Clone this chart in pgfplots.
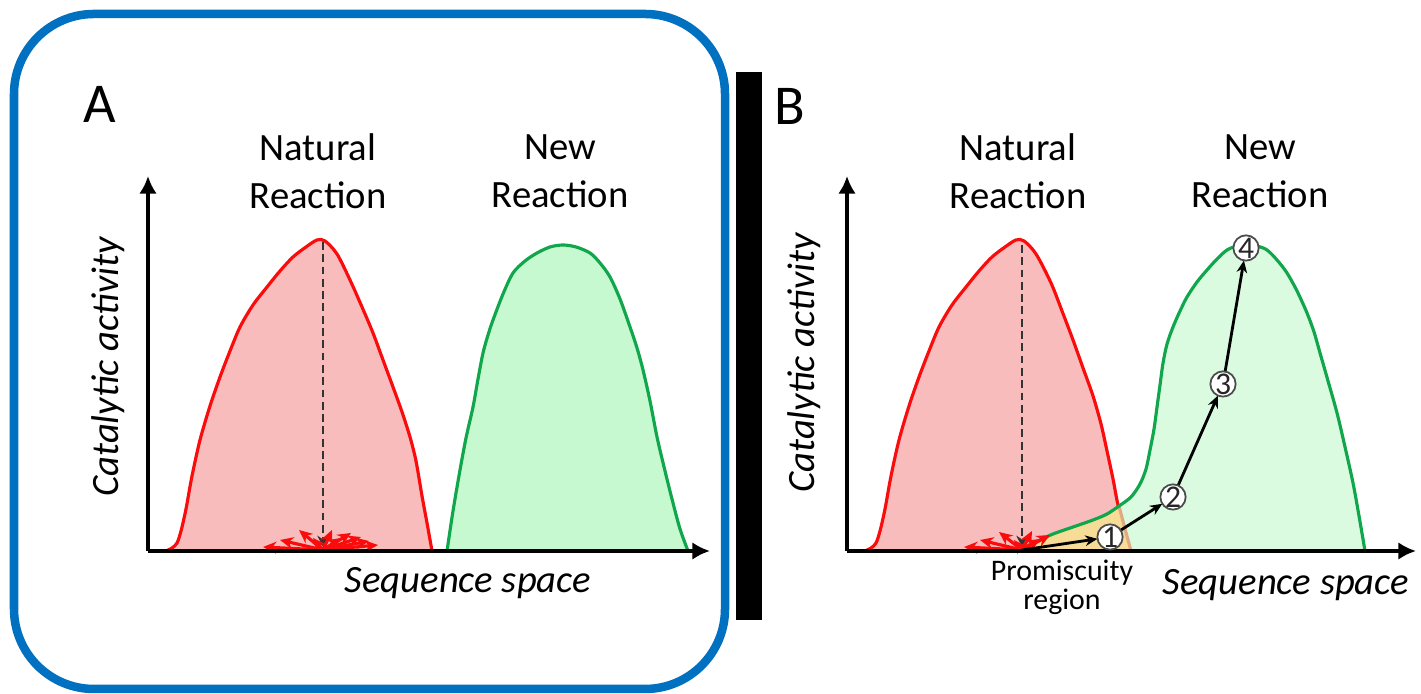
\documentclass[border=0pt]{standalone}
\usepackage{fontspec}
\setmainfont{Carlito}
\usepackage{pgfplots}
\pgfplotsset{compat=1.18}
\usetikzlibrary{arrows.meta}

\definecolor{redline}{RGB}{250,12,12}
\definecolor{redfill}{RGB}{249,188,188}
\definecolor{greenline}{RGB}{16,166,76}
\definecolor{greenfillA}{RGB}{199,249,209}
\definecolor{greenfillB}{RGB}{218,251,224}
\definecolor{promfill}{RGB}{246,220,150}
\definecolor{promline}{RGB}{225,170,130}
\definecolor{frameblue}{RGB}{0,112,192}

\pgfplotsset{
  landscape/.style={
    scale only axis, width=5.62cm, height=3.75cm,
    xmin=0, xmax=562, ymin=0, ymax=375,
    axis lines=left,
    axis line style={line width=1.4pt, -{Latex[length=5pt,width=5pt]}},
    xtick=\empty, ytick=\empty,
    clip=false, axis on top,
    label style={font=\fontsize{11}{13}\selectfont\itshape},
  },
  burst/.style={redline, line width=0.9pt, -{Stealth[length=3.8pt,width=3.4pt]}},
  peakline/.style={black!80, line width=0.75pt, dash pattern=on 2.2pt off 1.3pt,
    -{Stealth[length=3.2pt,width=3.2pt]}},
  step/.style={black, line width=0.8pt, -{Stealth[length=3.5pt,width=3pt]},
    shorten >=3.6pt},
}
\newcommand{\titlefont}{\fontsize{11}{13.7}\selectfont}

\begin{document}
\begin{tikzpicture}[x=1cm,y=1cm]
\useasboundingbox (0,0) rectangle (14.21,6.94);
\draw[frameblue, line width=0.085cm, rounded corners=0.8cm] (0.14,0.05) rectangle (7.25,6.80);
\fill[black] (7.36,0.74) rectangle (7.62,6.22);
\node[font=\fontsize{16}{19}\selectfont] at (1.00,5.90) {A};
\node[font=\fontsize{16}{19}\selectfont] at (7.90,5.88) {B};

% panel A
\begin{axis}[landscape, at={(1.48cm,1.43cm)}, anchor=south west,
  xlabel={Sequence space}, ylabel={Catalytic activity},
  xlabel style={at={(axis cs:320,-32)}, anchor=center},
  ylabel style={at={(axis cs:-40,184)}, anchor=center}]
\addplot[smooth, draw=redline, line width=0.9pt, fill=redfill] coordinates {
  (18,0) (24,3) (29,8) (33,20) (38,42) (44,75) (52,111) (62,145) (72,174)
  (82,200) (92,224) (105,246) (119,264) (132,280) (145,294) (158,304)
  (169,311) (177,310) (189,297) (202,271) (214,244) (225,218) (235,191)
  (245,164) (254,139) (262,114) (268,90) (274,55) (279,28) (284,0)};
\addplot[smooth, draw=greenline, line width=0.9pt, fill=greenfillA] coordinates {
  (299,0) (305,40) (312,81) (318,113) (325,144) (330,172) (335,198) (340,216)
  (345,231) (355,257) (365,278) (377,290) (389,298) (402,304) (415,306)
  (428,304) (442,298) (452,288) (462,274) (472,252) (482,224) (489,203)
  (495,181) (502,150) (509,114) (517,80) (525,48) (532,22) (540,0)};
\addplot[peakline] coordinates {(175,309) (175,4)};
\addplot[burst] coordinates {(175,1) (115,4)};
\addplot[burst] coordinates {(175,1) (132,11)};
\addplot[burst] coordinates {(175,1) (151,21)};
\addplot[burst] coordinates {(175,1) (165,13)};
\addplot[burst] coordinates {(175,1) (184,21)};
\addplot[burst] coordinates {(175,1) (193,13)};
\addplot[burst] coordinates {(175,1) (203,18)};
\addplot[burst] coordinates {(175,1) (213,14)};
\addplot[burst] coordinates {(175,1) (221,10)};
\addplot[burst] coordinates {(175,1) (230,6)};
\node[align=center, font=\titlefont] at (axis cs:170,380) {Natural\\Reaction};
\node[align=center, font=\titlefont] at (axis cs:412,380) {New\\Reaction};
\end{axis}

% panel B
\begin{axis}[landscape, at={(8.47cm,1.43cm)}, anchor=south west,
  width=5.69cm, xmax=569,
  xlabel={Sequence space}, ylabel={Catalytic activity},
  xlabel style={at={(axis cs:439,-34)}, anchor=center},
  ylabel style={at={(axis cs:-43,188)}, anchor=center}]
\addplot[smooth, draw=redline, line width=0.9pt, fill=redfill] coordinates {
  (18,0) (24,3) (29,8) (33,20) (38,42) (44,75) (52,111) (62,145) (72,174)
  (82,200) (92,224) (105,246) (119,264) (132,280) (145,294) (158,304)
  (169,311) (177,310) (189,297) (204,268) (215,240) (226,211) (236,183)
  (246,155) (254,127) (260,100) (266,72) (271,46) (278,22) (284,0)};
\addplot[smooth, draw=none, fill=greenfillB] coordinates {
  (175,1) (180,5) (193,11) (206,17) (226,24) (246,31) (260,37) (272,45)
  (284,54) (293,67) (299,82) (303,101) (307,122) (310,144) (313,166)
  (316,188) (320,207) (326,224) (333,240) (340,254) (350,269) (360,281)
  (370,292) (380,301) (390,305) (400,306) (410,305) (420,301) (430,291)
  (440,278) (450,260) (460,238) (467,219) (473,198) (481,170) (490,138)
  (498,104) (506,68) (512,35) (518,0)};
\addplot[draw=none, fill=promfill] coordinates {
  (175,0) (175,1) (180,5) (193,11) (206,17) (226,24) (246,31) (260,37)
  (272,45) (278,22) (284,0)} \closedcycle;
\addplot[promline, line width=0.9pt] coordinates {(272,45) (278,22) (284,0)};
\addplot[smooth, draw=greenline, line width=0.9pt] coordinates {
  (175,1) (180,5) (193,11) (206,17) (226,24) (246,31) (260,37) (272,45)
  (284,54) (293,67) (299,82) (303,101) (307,122) (310,144) (313,166)
  (316,188) (320,207) (326,224) (333,240) (340,254) (350,269) (360,281)
  (370,292) (380,301) (390,305) (400,306) (410,305) (420,301) (430,291)
  (440,278) (450,260) (460,238) (467,219) (473,198) (481,170) (490,138)
  (498,104) (506,68) (512,35) (518,0)};
\addplot[peakline] coordinates {(175,306) (175,4)};
\addplot[burst] coordinates {(175,1) (117,4)};
\addplot[burst] coordinates {(175,1) (133,11)};
\addplot[burst] coordinates {(175,1) (152,19)};
\addplot[burst] coordinates {(175,1) (167,11)};
\addplot[burst] coordinates {(175,1) (185,20)};
\addplot[burst] coordinates {(175,1) (193,12)};
\addplot[burst] coordinates {(175,1) (203,16)};
\addplot[step] coordinates {(175,1) (263,14)};
\addplot[step, shorten <=3.6pt] coordinates {(263,14) (326,54)};
\addplot[step, shorten <=3.6pt] coordinates {(326,54) (376,167)};
\addplot[step, shorten <=3.6pt] coordinates {(376,167) (399,303)};
\addplot[only marks, mark=*, mark size=3.6pt,
  mark options={fill=white, draw=black!70, line width=0.5pt},
  point meta=explicit symbolic, nodes near coords,
  nodes near coords style={anchor=center, inner sep=0pt,
    font=\fontsize{9}{9}\selectfont, text=black!85}]
  coordinates {(263,14)[1] (326,54)[2] (376,167)[3] (399,303)[4]};
\node[align=center, font=\fontsize{8.5}{6.8}\selectfont] at (axis cs:215,-36) {Promiscuity\\region};
\node[align=center, font=\titlefont] at (axis cs:171,380) {Natural\\Reaction};
\node[align=center, font=\titlefont] at (axis cs:413,380) {New\\Reaction};
\end{axis}
\end{tikzpicture}
\end{document}
